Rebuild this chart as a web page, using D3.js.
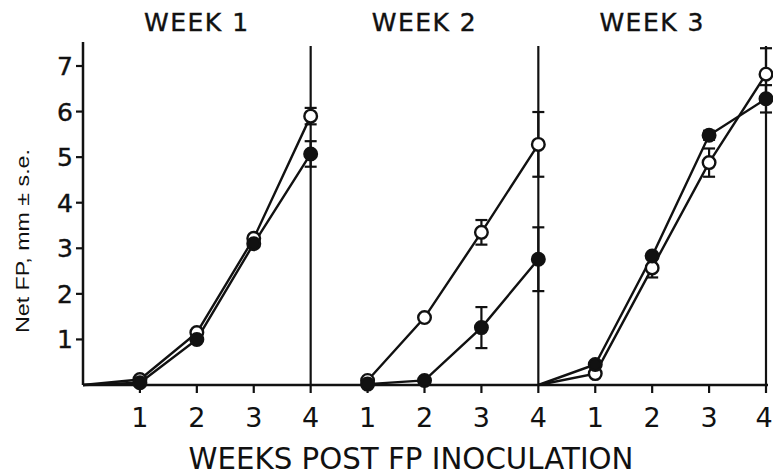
<!DOCTYPE html>
<html>
<head>
<meta charset="utf-8">
<script src="https://cdn.jsdelivr.net/npm/d3@7"></script>
<style>
  body { margin: 0; background: #fff; }
  svg { display: block; }
  text { fill: #111; }
</style>
</head>
<body>
<div id="chart"></div>
<script>
// Starting parameters
var svgWidth = 773;
var svgHeight = 475;

// Data: weeks post FP inoculation within each panel
var panelTitles = ['WEEK 1', 'WEEK 2', 'WEEK 3'];
var postWeeks = [0, 1, 2, 3, 4];
var yTicks = [1, 2, 3, 4, 5, 6, 7];

var week1Open = [0, 0.12, 1.15, 3.22, 5.9];
var week1Filled = [0, 0.05, 1.0, 3.1, 5.07];
var week2Open = [null, 0.1, 1.48, 3.35, 5.28];
var week2Filled = [null, 0.02, 0.1, 1.26, 2.76];
var week3Open = [0, 0.25, 2.57, 4.88, 6.82];
var week3Filled = [0, 0.45, 2.83, 5.48, 6.28];

// standard errors
var week1OpenSE = [0, 0, 0, 0, 0.18];
var week1FilledSE = [0, 0, 0, 0, 0.28];
var week2OpenSE = [0, 0, 0, 0.27, 0.71];
var week2FilledSE = [0, 0, 0, 0.45, 0.7];
var week3OpenSE = [0, 0, 0.21, 0.31, 0.57];
var week3FilledSE = [0, 0, 0, 0.1, 0.3];

var panels = [
  { open: week1Open, filled: week1Filled, openSE: week1OpenSE, filledSE: week1FilledSE },
  { open: week2Open, filled: week2Filled, openSE: week2OpenSE, filledSE: week2FilledSE },
  { open: week3Open, filled: week3Filled, openSE: week3OpenSE, filledSE: week3FilledSE }
];

var font = "'DejaVu Sans', 'Liberation Sans', sans-serif";

var svg = d3.select('#chart')
  .append('svg')
  .attr('width', svgWidth)
  .attr('height', svgHeight);

// one continuous x scale, 4 weeks per panel
var xScale = d3.scaleLinear().domain([0, 12]).range([83, 766]);
var yScale = d3.scaleLinear().domain([0, 7]).range([385, 66]);

var ink = '#111';

// axes
svg.append('line')
  .attr('x1', xScale(0)).attr('x2', xScale(0))
  .attr('y1', 42).attr('y2', yScale(0))
  .attr('stroke', ink).attr('stroke-width', 2.5);

svg.append('line')
  .attr('x1', xScale(0)).attr('x2', xScale(12) + 2)
  .attr('y1', yScale(0)).attr('y2', yScale(0))
  .attr('stroke', ink).attr('stroke-width', 2.5);

// panel separators
svg.selectAll('.sep')
  .data([4, 8, 12])
  .enter()
  .append('line')
  .attr('x1', d => xScale(d)).attr('x2', d => xScale(d))
  .attr('y1', 46).attr('y2', yScale(0))
  .attr('stroke', ink).attr('stroke-width', 2.2);

// y ticks
svg.selectAll('.ytick')
  .data(yTicks)
  .enter()
  .append('line')
  .attr('x1', xScale(0) - 7).attr('x2', xScale(0))
  .attr('y1', d => yScale(d)).attr('y2', d => yScale(d))
  .attr('stroke', ink).attr('stroke-width', 2.2);

svg.selectAll('.ylabel')
  .data(yTicks)
  .enter()
  .append('text')
  .attr('x', 73)
  .attr('y', d => yScale(d))
  .attr('dy', '0.36em')
  .attr('text-anchor', 'end')
  .attr('font-family', font)
  .attr('font-size', 25)
  .attr('stroke', ink).attr('stroke-width', 0.4)
  .text(d => d);

// x ticks & labels for every panel
panels.forEach(function(p, i) {
  var off = i * 4;
  var ticks = postWeeks.filter(w => w > 0);

  svg.selectAll('.xtick' + i)
    .data(ticks)
    .enter()
    .append('line')
    .attr('x1', d => xScale(off + d)).attr('x2', d => xScale(off + d))
    .attr('y1', yScale(0)).attr('y2', yScale(0) + 8)
    .attr('stroke', ink).attr('stroke-width', 2.2);

  svg.selectAll('.xlabel' + i)
    .data(ticks)
    .enter()
    .append('text')
    .attr('x', d => Math.min(xScale(off + d), svgWidth - 9))
    .attr('y', 427)
    .attr('text-anchor', 'middle')
    .attr('font-family', font)
    .attr('font-size', 27)
    .text(d => d);

  svg.append('text')
    .attr('x', xScale(off + 2))
    .attr('y', 31)
    .attr('text-anchor', 'middle')
    .attr('font-family', font)
    .attr('font-size', 25)
    .attr('letter-spacing', 1.5)
    .attr('stroke', ink).attr('stroke-width', 0.4)
    .text(panelTitles[i]);
});

// series lines, error bars, markers
var line = d3.line()
  .defined(d => d.v !== null)
  .x(d => xScale(d.w))
  .y(d => yScale(d.v));

function toPoints(vals, se, off) {
  return vals.map((v, j) => ({ w: off + postWeeks[j], v: v, se: se[j], idx: j }));
}

panels.forEach(function(p, i) {
  var off = i * 4;
  var series = [
    { pts: toPoints(p.open, p.openSE, off), fill: '#fff' },
    { pts: toPoints(p.filled, p.filledSE, off), fill: ink }
  ];

  series.forEach(function(s) {
    svg.append('path')
      .datum(s.pts)
      .attr('d', line)
      .attr('fill', 'none')
      .attr('stroke', ink)
      .attr('stroke-width', 2.4);
  });

  series.forEach(function(s) {
    var withErr = s.pts.filter(d => d.v !== null && d.se > 0);
    var g = svg.append('g').attr('stroke', ink).attr('stroke-width', 2.2);
    g.selectAll('.eb')
      .data(withErr)
      .enter()
      .append('line')
      .attr('x1', d => xScale(d.w)).attr('x2', d => xScale(d.w))
      .attr('y1', d => yScale(d.v + d.se)).attr('y2', d => yScale(d.v - d.se));
    g.selectAll('.capTop')
      .data(withErr)
      .enter()
      .append('line')
      .attr('x1', d => xScale(d.w) - 6).attr('x2', d => xScale(d.w) + 6)
      .attr('y1', d => yScale(d.v + d.se)).attr('y2', d => yScale(d.v + d.se));
    g.selectAll('.capBot')
      .data(withErr)
      .enter()
      .append('line')
      .attr('x1', d => xScale(d.w) - 6).attr('x2', d => xScale(d.w) + 6)
      .attr('y1', d => yScale(d.v - d.se)).attr('y2', d => yScale(d.v - d.se));
  });

  series.forEach(function(s) {
    svg.selectAll('.pt')
      .data(s.pts.filter(d => d.v !== null && d.idx > 0))
      .enter()
      .append('circle')
      .attr('cx', d => xScale(d.w))
      .attr('cy', d => yScale(d.v))
      .attr('r', 6.3)
      .attr('fill', s.fill)
      .attr('stroke', ink)
      .attr('stroke-width', 2.4);
  });
});

// axis titles
svg.append('text')
  .attr('transform', 'translate(29, 241) rotate(-90)')
  .attr('text-anchor', 'middle')
  .attr('font-family', "'Liberation Sans', Arial, sans-serif")
  .attr('font-size', 18)
  .attr('textLength', 184)
  .attr('lengthAdjust', 'spacingAndGlyphs')
  .text('Net FP, mm \u00b1 s.e.');

svg.append('text')
  .attr('x', 411)
  .attr('y', 469)
  .attr('text-anchor', 'middle')
  .attr('font-family', font)
  .attr('font-size', 30)
  .attr('textLength', 445)
  .attr('lengthAdjust', 'spacingAndGlyphs')
  .text('WEEKS POST FP INOCULATION');
</script>
</body>
</html>
